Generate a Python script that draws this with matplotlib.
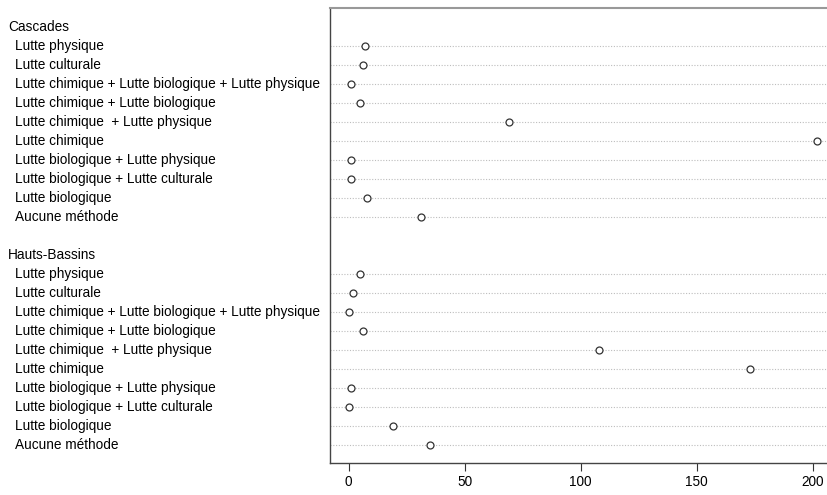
import matplotlib
matplotlib.use("Agg")
import matplotlib.pyplot as plt
import matplotlib.transforms as mtransforms

plt.rcParams['font.family'] = ['Liberation Sans', 'DejaVu Sans']

methods = ["Lutte physique", "Lutte culturale",
           "Lutte chimique + Lutte biologique + Lutte physique",
           "Lutte chimique + Lutte biologique",
           "Lutte chimique  + Lutte physique", "Lutte chimique",
           "Lutte biologique + Lutte physique",
           "Lutte biologique + Lutte culturale", "Lutte biologique",
           "Aucune méthode"]
groups = ["Cascades", "Hauts-Bassins"]
cascades = [7, 6, 1, 5, 69, 202, 1, 1, 8, 31]
hauts_bassins = [5, 2, 0, 6, 108, 173, 1, 0, 19, 35]
values = [cascades, hauts_bassins]
xticks = [0, 50, 100, 150, 200]

W, H = 828, 495
fig = plt.figure(figsize=(W / 100, H / 100), dpi=100)
# plot region runs off the right edge like the original
ax = fig.add_axes([330 / W, 32 / H, (836 - 330) / W, (463 - 8) / H])

# y positions: top group first, one blank row between groups
n = len(methods)
ypos = []
header_y = []
top = 2 * n + 3
y = top
for g in range(len(groups)):
    header_y.append(y)
    y -= 1
    rows = []
    for i in range(n):
        rows.append(y)
        y -= 1
    ypos.append(rows)
    y -= 1

fs = 9.8
trans = mtransforms.blended_transform_factory(fig.transFigure, ax.transData)
for g, name in enumerate(groups):
    ax.text(8 / W, header_y[g], name, transform=trans, ha='left', va='center',
            fontsize=fs, clip_on=False)
    for i, m in enumerate(methods):
        yy = ypos[g][i]
        ax.axhline(yy, color='#bdbdbd', lw=0.8, ls=(0, (1, 1.5)), zorder=1)
        ax.text(15 / W, yy, m, transform=trans, ha='left', va='center',
                fontsize=fs, clip_on=False)
    ax.plot(values[g], ypos[g], 'o', mfc='white', mec='#333333', ms=5,
            mew=0.9, zorder=3, clip_on=False)

ax.set_xlim(-8.08, 210.08)
ax.set_ylim(0.05, top + 1)
ax.set_yticks([])
ax.set_xticks(xticks)
ax.set_xticklabels([str(t) for t in xticks], fontsize=fs)
ax.tick_params(axis='x', length=6, width=0.8, color='#333333', pad=3)
for s in ['left', 'bottom']:
    ax.spines[s].set_color('#444444')
    ax.spines[s].set_linewidth(1.0)
ax.spines['top'].set_color('#999999')
ax.spines['top'].set_linewidth(1.5)
ax.spines['right'].set_visible(False)

fig.savefig("out.png", dpi=100)
